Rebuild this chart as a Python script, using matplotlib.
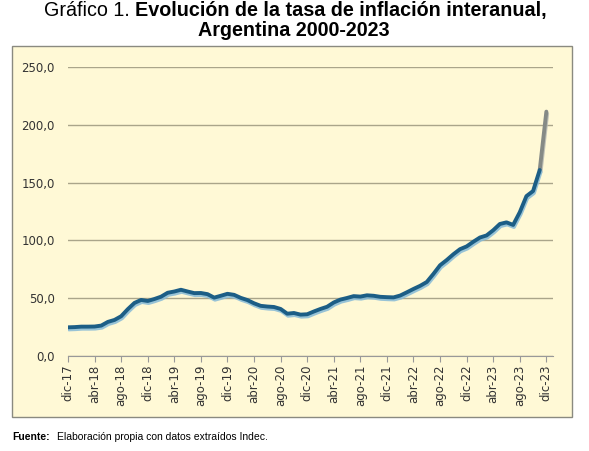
import numpy as np
import matplotlib.pyplot as plt
import matplotlib.patheffects as pe
from matplotlib.patches import Rectangle

# interanual inflation, monthly, dic-17 .. dic-23
inflacion = [
    24.8,
    25.0, 25.4, 25.4, 25.5, 26.3, 29.5, 31.2, 34.4, 40.5, 45.9, 48.5, 47.6,
    49.3, 51.3, 54.7, 55.8, 57.3, 55.8, 54.4, 54.5, 53.5, 50.5, 52.1, 53.8,
    52.9, 50.3, 48.4, 45.6, 43.4, 42.8, 42.4, 40.7, 36.6, 37.2, 35.8, 36.1,
    38.5, 40.7, 42.6, 46.3, 48.8, 50.2, 51.8, 51.4, 52.5, 52.1, 51.2, 50.9,
    50.7, 52.3, 55.1, 58.0, 60.7, 64.0, 71.0, 78.5, 83.0, 88.0, 92.4, 94.8,
    98.8, 102.5, 104.3, 108.8, 114.2, 115.6, 113.4, 124.4, 138.3, 142.7, 160.9, 211.4,
]
etiquetas = ['dic-17', 'abr-18', 'ago-18', 'dic-18', 'abr-19', 'ago-19', 'dic-19',
             'abr-20', 'ago-20', 'dic-20', 'abr-21', 'ago-21', 'dic-21', 'abr-22',
             'ago-22', 'dic-22', 'abr-23', 'ago-23', 'dic-23']
yticks = [0, 50, 100, 150, 200, 250]

W, H = 589, 451
fig = plt.figure(figsize=(W / 100, H / 100), dpi=100)
fig.patch.set_facecolor('white')

bg = '#FFF9D6'
# chart area box
fig.patches.append(Rectangle((12 / W, 1 - 417 / H), (572 - 12) / W, (417 - 46) / H,
                             transform=fig.transFigure, facecolor=bg,
                             edgecolor='#8a8a80', linewidth=1.0, zorder=-5))

ax = fig.add_axes([68 / W, 1 - 356 / H, (553 - 68) / W, (356 - 67) / H])
ax.patch.set_alpha(0)

x = np.arange(len(inflacion))
shadow = [pe.SimpleLineShadow(offset=(0.6, -1.5), shadow_color='#86bad6', alpha=0.85),
          pe.Normal()]
ax.plot(x[:-1], inflacion[:-1], color='#1c5e86', lw=2.8, solid_capstyle='round',
        solid_joinstyle='round', path_effects=shadow, zorder=3)
ax.plot(x[-2:], inflacion[-2:], color='#858a86', lw=2.8, solid_capstyle='round',
        path_effects=[pe.SimpleLineShadow(offset=(0.6, -1.5), shadow_color='#b5b8b2', alpha=0.85),
                      pe.Normal()], zorder=2)

ax.set_ylim(0, 250)
ax.set_xlim(0, 73)
ax.set_yticks(yticks)
ax.set_yticklabels([f'{v:.1f}'.replace('.', ',') for v in yticks], fontsize=8.5, color='#333333')
ax.yaxis.grid(True, color='#aaa58a', lw=1.0)
ax.tick_params(axis='y', length=0, pad=9.5)

ax.set_xticks(np.arange(0, 73, 4))
ax.set_xticklabels(etiquetas, rotation=90, fontsize=8.5, color='#333333')
ax.tick_params(axis='x', length=4, width=0.8, color='#999999', pad=2)

for s in ['left', 'right', 'top']:
    ax.spines[s].set_visible(False)
ax.spines['bottom'].set_color('#999999')
ax.set_axisbelow(True)

# title: regular + bold part, centred together
fs = 14.2
r = fig.canvas.get_renderer()
t1 = fig.text(0, 1 - 16 / H, 'Gráfico 1. ', fontsize=fs, family='Liberation Sans',
              ha='left', va='baseline')
t2 = fig.text(0, 1 - 16 / H, 'Evolución de la tasa de inflación interanual,', fontsize=fs,
              family='Liberation Sans', fontweight='bold', ha='left', va='baseline')
w1 = t1.get_window_extent(r).width / W
w2 = t2.get_window_extent(r).width / W
x0 = 295 / W - (w1 + w2) / 2
t1.set_x(x0)
t2.set_x(x0 + w1)
fig.text(293.5 / W, 1 - 36 / H, 'Argentina 2000-2023', fontsize=fs,
         family='Liberation Sans', fontweight='bold', ha='center', va='baseline')

fig.text(12 / W, 1 - 437 / H, 'Fuente:', fontsize=7.5, family='Liberation Sans',
         fontweight='bold', ha='left', va='center')
fig.text(57 / W, 1 - 437 / H, 'Elaboración propia con datos extraídos Indec.', fontsize=7.5,
         family='Liberation Sans', ha='left', va='center')

fig.savefig('out.png', dpi=100)
